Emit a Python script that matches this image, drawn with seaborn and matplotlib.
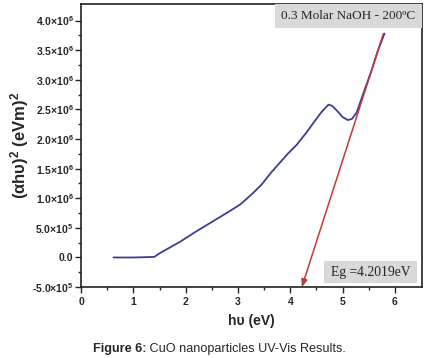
import matplotlib
matplotlib.use("Agg")
import matplotlib.pyplot as plt
from matplotlib.patches import Rectangle
import seaborn as sns
import pandas as pd
import numpy as np

# Data (x in eV, y in units of 1e6)
hv = [0.62, 1.00, 1.40, 1.50, 1.70, 1.90, 2.20, 2.50, 2.80, 3.05, 3.29, 3.45, 3.62,
      3.80, 3.95, 4.12, 4.30, 4.44, 4.60, 4.73, 4.80, 4.90, 5.00, 5.10, 5.18, 5.27,
      5.40, 5.55, 5.67, 5.80]
ahv2 = [0.00, 0.00, 0.01, 0.07, 0.17, 0.27, 0.44, 0.60, 0.76, 0.90, 1.09, 1.23, 1.42,
        1.60, 1.75, 1.90, 2.10, 2.27, 2.46, 2.58, 2.56, 2.47, 2.37, 2.32, 2.34, 2.45,
        2.78, 3.15, 3.48, 3.78]
fit_x = [5.78, 4.22]
fit_y = [3.78, -0.50]

yticks = [-0.5, 0.0, 0.5, 1.0, 1.5, 2.0, 2.5, 3.0, 3.5, 4.0]
ytick_labels = ["-5.0×10$^{5}$", "0.0", "5.0×10$^{5}$", "1.0×10$^{6}$", "1.5×10$^{6}$",
                "2.0×10$^{6}$", "2.5×10$^{6}$", "3.0×10$^{6}$", "3.5×10$^{6}$", "4.0×10$^{6}$"]
xticks = [0, 1, 2, 3, 4, 5, 6]
legend_text = "0.3 Molar NaOH - 200ºC"
eg_text = "Eg =4.2019eV"
xlabel = "hυ (eV)"
ylabel = r"(αhυ)$^{\mathbf{2}}$ (eVm)$^{\mathbf{2}}$"
caption_bold = "Figure 6:"
caption_rest = " CuO nanoparticles UV-Vis Results."

sns.set_style("ticks")
plt.rcParams["font.family"] = ["Liberation Sans", "DejaVu Sans"]
plt.rcParams["mathtext.fontset"] = "custom"
plt.rcParams["mathtext.rm"] = "Liberation Sans:bold"
plt.rcParams["mathtext.bf"] = "Liberation Sans:bold"
plt.rcParams["mathtext.it"] = "Liberation Sans:bold"

fig = plt.figure(figsize=(4.29, 3.58), dpi=100)
ax = fig.add_axes([0.189, 0.198, 0.795, 0.791])

df = pd.DataFrame({"hv": hv, "y": ahv2})
sns.lineplot(data=df, x="hv", y="y", ax=ax, color="#3b3d96", linewidth=1.3)

ax.annotate("", xy=(fit_x[1], fit_y[1]), xytext=(fit_x[0], fit_y[0]),
            arrowprops=dict(arrowstyle="-|>,head_length=0.45,head_width=0.18",
                            color="#c0393b", lw=1.1, shrinkA=0, shrinkB=0),
            annotation_clip=False)

ax.set_xlim(0, 6.52)
ax.set_ylim(-0.5, 4.28)
ax.set_xticks(xticks)
ax.set_xticklabels([str(t) for t in xticks])
ax.set_xticks(np.arange(0.5, 6.5, 1.0), minor=True)
ax.set_yticks(yticks)
ax.set_yticklabels(ytick_labels)
ax.set_yticks(np.arange(-0.25, 4.25, 0.5), minor=True)
ax.tick_params(axis="both", which="major", direction="out", length=4, width=1,
               labelsize=7.5, pad=1.5)
ax.tick_params(axis="x", which="major", pad=3)
ax.tick_params(axis="both", which="minor", direction="out", length=2.5, width=1)
for lab in ax.get_xticklabels() + ax.get_yticklabels():
    lab.set_fontweight("bold")
for s in ax.spines.values():
    s.set_visible(True)
    s.set_linewidth(1.2)
    s.set_color("#222222")

ax.set_xlabel(xlabel, fontsize=10, fontweight="bold", labelpad=5)
ax.set_ylabel(ylabel, fontsize=12, fontweight="bold", labelpad=1)
ax.set_facecolor("white")

# grey label boxes
ax.add_patch(Rectangle((0.569, 0.915), 0.431, 0.085, transform=ax.transAxes,
                       fc="#d9d9d9", ec="none", zorder=3))
ax.text(0.784, 0.958, legend_text, transform=ax.transAxes, ha="center", va="center",
        fontsize=9.5, family="Liberation Serif", zorder=4)
ax.add_patch(Rectangle((0.713, 0.014), 0.272, 0.078, transform=ax.transAxes,
                       fc="#d9d9d9", ec="none", zorder=3))
ax.text(0.849, 0.053, eg_text, transform=ax.transAxes, ha="center", va="center",
        fontsize=9.8, family="Liberation Serif", zorder=4)

t1 = fig.text(93 / 429, 0.018, caption_bold, fontsize=9.1, fontweight="bold",
              ha="left", va="baseline")
fig.canvas.draw()
bb = t1.get_window_extent(renderer=fig.canvas.get_renderer())
x_next = fig.transFigure.inverted().transform((bb.x1, bb.y0))[0]
fig.text(x_next, 0.018, caption_rest, fontsize=9.1, ha="left", va="baseline")

fig.savefig("out.png", dpi=100, facecolor="white")
